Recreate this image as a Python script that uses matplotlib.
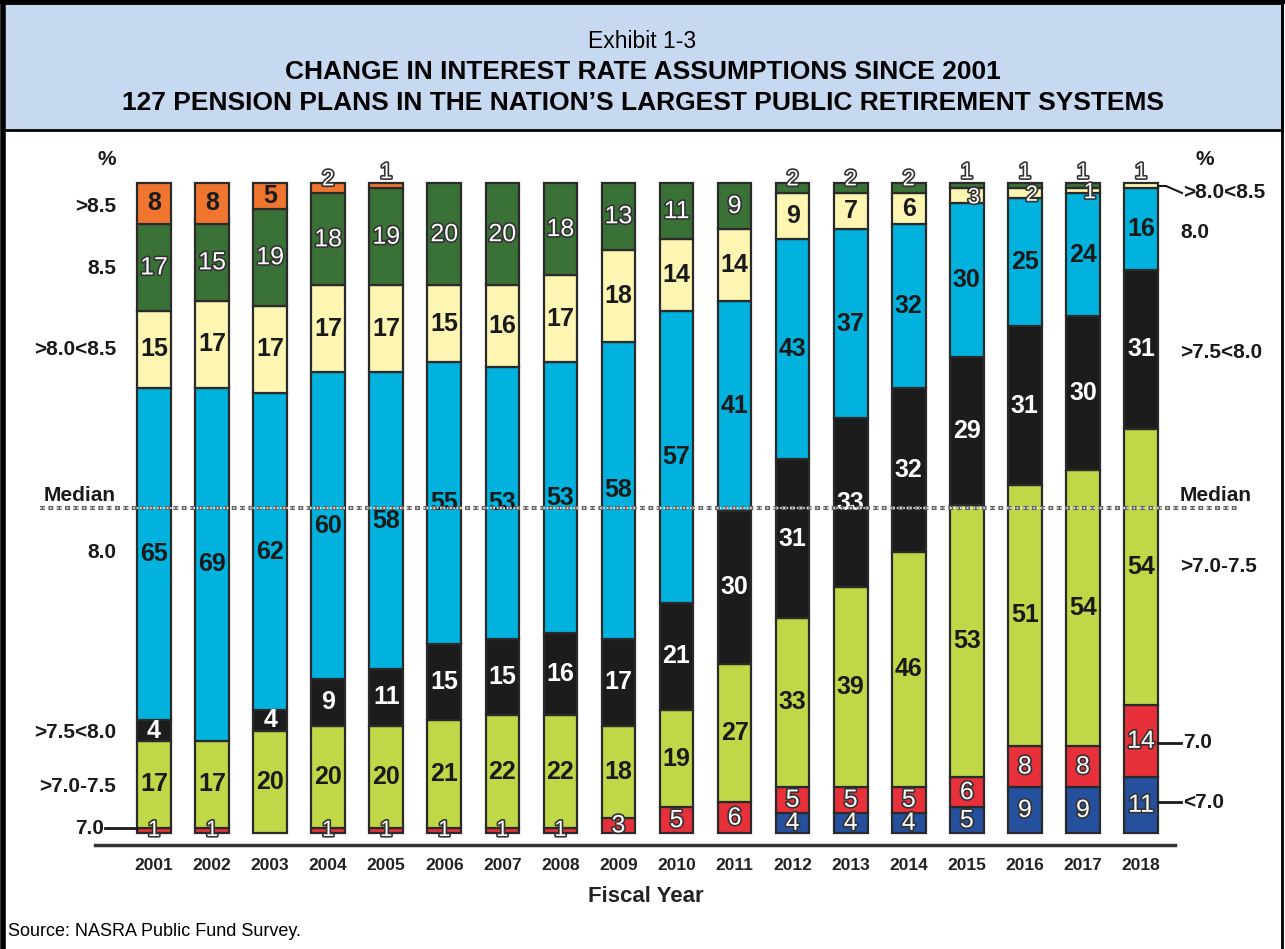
import numpy as np
import matplotlib
matplotlib.use("Agg")
import matplotlib.pyplot as plt
import matplotlib.patheffects as pe
from matplotlib.patches import Rectangle
from matplotlib.lines import Line2D

# data: number of plans per assumption band, fiscal years 2001-2018 (127 plans)
years = [str(y) for y in range(2001, 2019)]
below_70 = [0, 0, 0, 0, 0, 0, 0, 0, 0, 0, 0, 4, 4, 4, 5, 9, 9, 11]
at_70 = [1, 1, 0, 1, 1, 1, 1, 1, 3, 5, 6, 5, 5, 5, 6, 8, 8, 14]
r70_75 = [17, 17, 20, 20, 20, 21, 22, 22, 18, 19, 27, 33, 39, 46, 53, 51, 54, 54]
r75_80 = [4, 0, 4, 9, 11, 15, 15, 16, 17, 21, 30, 31, 33, 32, 29, 31, 30, 31]
at_80 = [65, 69, 62, 60, 58, 55, 53, 53, 58, 57, 41, 43, 37, 32, 30, 25, 24, 16]
r80_85 = [15, 17, 17, 17, 17, 15, 16, 17, 18, 14, 14, 9, 7, 6, 3, 2, 1, 1]
at_85 = [17, 15, 19, 18, 19, 20, 20, 18, 13, 11, 9, 2, 2, 2, 1, 1, 1, 0]
above_85 = [8, 8, 5, 2, 1, 0, 0, 0, 0, 0, 0, 0, 0, 0, 0, 0, 0, 0]

series = [below_70, at_70, r70_75, r75_80, at_80, r80_85, at_85, above_85]
colors = ["#25509e", "#e8303a", "#c0d848", "#1c1c1c", "#00b2dd", "#fdf6b2", "#3a7136", "#f07630"]
# text style per band: 'o' = white outlined, 'k' = black bold, 'w' = white bold
styles = ["o", "o", "k", "w", "k", "k", "o", "k"]

W, H = 1285, 949
fig = plt.figure(figsize=(W / 100, H / 100), dpi=100)

def fx(x):
    return x / W

def fy(y):
    return 1 - y / H

narrow = ["Liberation Sans Narrow", "Liberation Sans", "DejaVu Sans"]
arial = ["Liberation Sans", "DejaVu Sans"]

# frame and title band
fig.add_artist(Rectangle((fx(3), fy(130)), fx(1279), 127 / H, transform=fig.transFigure,
                         facecolor="#c6d9f1", edgecolor="black", linewidth=2))
fig.add_artist(Line2D([fx(3), fx(3)], [0, 1], transform=fig.transFigure, color="black", lw=4))
fig.add_artist(Line2D([fx(1282), fx(1282)], [0, 1], transform=fig.transFigure, color="black", lw=2))
fig.add_artist(Line2D([0, 1], [fy(2), fy(2)], transform=fig.transFigure, color="black", lw=3))

fig.text(0.5, fy(42), "Exhibit 1-3", ha="center", va="center", fontsize=16.5, family=arial)
fig.text(0.5, fy(72), "CHANGE IN INTEREST RATE ASSUMPTIONS SINCE 2001", ha="center", va="center",
         fontsize=19, fontweight="bold", family=arial)
fig.text(0.5, fy(103), "127 PENSION PLANS IN THE NATION\u2019S LARGEST PUBLIC RETIREMENT SYSTEMS",
         ha="center", va="center", fontsize=19, fontweight="bold", family=arial)

# plot area: bar centres 154px..1141px, bars 183px (127) .. 833px (0)
upx = (833 - 183) / 127
step = (1141 - 154) / 17
ax = fig.add_axes([fx(95), fy(845), (1175 - 95) / W, (845 - 150) / H])
ax.set_xlim((95 - 154) / step, (1175 - 154) / step)
ax.set_ylim(-(845 - 833) / upx, (833 - 150) / upx)
for s in ["top", "right", "left"]:
    ax.spines[s].set_visible(False)
ax.spines["bottom"].set_linewidth(2.5)
ax.spines["bottom"].set_color("#333333")
ax.set_yticks([])
x = np.arange(len(years))
ax.set_xticks(x)
ax.set_xticklabels(years, fontsize=12.5, fontweight="bold", family=narrow, color="#222222")
ax.tick_params(axis="x", length=0, pad=9)
ax.set_xlabel("Fiscal Year", fontsize=16, fontweight="bold", family=arial, color="#222222",
              va="center")
ax.xaxis.set_label_coords((646 - 95) / (1175 - 95), -(897 - 845) / (845 - 150))

outline = [pe.withStroke(linewidth=2.4, foreground="#333333")]
bottom = np.zeros(len(years))
totals = np.sum(series, axis=0)
for k, vals in enumerate(series):
    vals = np.array(vals, dtype=float)
    mask = vals > 0
    ax.bar(x[mask], vals[mask], bottom=bottom[mask], width=0.58, color=colors[k],
           edgecolor="#2a2a2a", linewidth=1.6, zorder=2)
    for i in np.where(mask)[0]:
        v = vals[i]
        top = bottom[i] + v
        xc, yc = x[i], bottom[i] + v / 2
        st = styles[k]
        fs = 18
        if v <= 2 and top >= totals[i]:
            yc = top + (2.0 if v == 1 else 0.6)
        elif v <= 3 and k >= 5:
            xc += 0.12
            yc -= 0.4
        if v <= 3 and k >= 5:
            st = "o"
            fs = 16
        if v <= 1 and k == 1:
            fs = 16
        kw = dict(ha="center", va="center", fontsize=fs, family=arial, zorder=4)
        if st == "o":
            ax.text(xc, yc, str(int(v)), color="white", path_effects=outline, **kw)
        elif st == "w":
            ax.text(xc, yc, str(int(v)), color="white", fontweight="bold", **kw)
        else:
            ax.text(xc, yc, str(int(v)), color="#1a1a1a", fontweight="bold", **kw)
    bottom += vals

# median line at 63.5 of 127
med = 127 / 2
ax.plot([(40 - 154) / step, (1240 - 154) / step], [med, med], color="#666666", lw=3,
        ls=(0, (1.2, 0.8)), clip_on=False, zorder=5)
ax.plot([(40 - 154) / step, (1240 - 154) / step], [med, med], color="#eeeeee", lw=1.2,
        ls=(0, (1.0, 1.0)), clip_on=False, zorder=6)

# band labels, left side
lab = dict(fontsize=15, fontweight="bold", family=arial, color="#1a1a1a", va="center")
fig.text(fx(116), fy(160), "%", ha="right", **lab)
for txt, yy in [(">8.5", 206), ("8.5", 268), (">8.0<8.5", 350), ("Median", 496),
                ("8.0", 552), (">7.5<8.0", 732), (">7.0-7.5", 787), ("7.0", 828)]:
    fig.text(fx(116) if txt != "7.0" else fx(104), fy(yy), txt, ha="right", **lab)
fig.add_artist(Line2D([fx(105), fx(137)], [fy(828), fy(828)], transform=fig.transFigure,
                      color="#1a1a1a", lw=2))

# band labels, right side
fig.text(fx(1196), fy(160), "%", ha="left", **lab)
for txt, yy in [(">8.0<8.5", 193), ("8.0", 232), (">7.5<8.0", 352), ("Median", 496),
                (">7.0-7.5", 567), ("7.0", 743), ("<7.0", 802)]:
    xx = 1183 if txt in (">8.0<8.5", "7.0", "<7.0") else 1180
    fig.text(fx(xx), fy(yy), txt, ha="left", **lab)
fig.add_artist(Line2D([fx(1158), fx(1166), fx(1182)], [fy(186), fy(186), fy(193)],
                      transform=fig.transFigure, color="#1a1a1a", lw=1.5))
for yy in [743, 802]:
    fig.add_artist(Line2D([fx(1158), fx(1181)], [fy(yy), fy(yy)], transform=fig.transFigure,
                          color="#1a1a1a", lw=2))

fig.text(fx(8), fy(932), "Source: NASRA Public Fund Survey.", ha="left", va="center",
         fontsize=13, family=arial)

fig.savefig("out.png", dpi=100)
